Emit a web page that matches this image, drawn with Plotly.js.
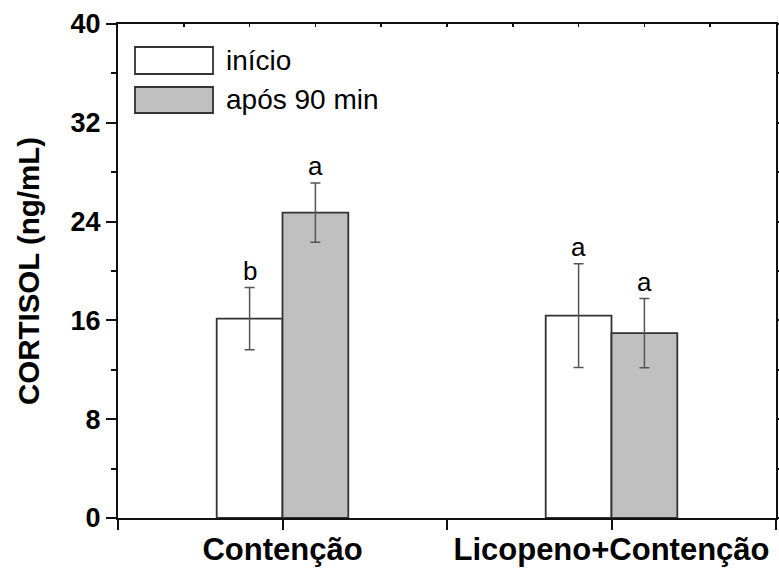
<!DOCTYPE html>
<html>
<head>
<meta charset="utf-8">
<script src="https://cdn.plot.ly/plotly-3.0.1.min.js"></script>
<style>html,body{margin:0;padding:0;background:#fff}#chart{width:779px;height:568px}</style>
</head>
<body>
<div id="chart"></div>
<script>
// ---- data ----
const categories = ['Contenção', 'Licopeno+Contenção'];
const seriesNames = ['início', 'após 90 min'];
const inicioValues = [16.14, 16.38];
const inicioErrors = [2.52, 4.2];
const inicioLetters = ['b', 'a'];
const aposValues = [24.72, 14.97];
const aposErrors = [2.40, 2.8];
const aposLetters = ['a', 'a'];
const yTickVals = [0, 8, 16, 24, 32, 40];

const xPos = categories.map((c, i) => i);
const FONT = '"Liberation Sans", Arial, sans-serif';
const outline = {color: '#333', width: 1.8};
const errStyle = {type: 'data', visible: true, color: '#555', thickness: 1.5, width: 5};

const traces = [
  {type: 'bar', name: seriesNames[0], x: xPos, y: inicioValues,
   marker: {color: '#ffffff', line: outline},
   error_y: Object.assign({array: inicioErrors}, errStyle), showlegend: false, hoverinfo: 'y'},
  {type: 'bar', name: seriesNames[1], x: xPos, y: aposValues,
   marker: {color: '#c0c0c0', line: outline},
   error_y: Object.assign({array: aposErrors}, errStyle), showlegend: false, hoverinfo: 'y'}
];

const annotations = [];
const addLetters = (vals, errs, letters, off) => {
  vals.forEach((v, i) => annotations.push({
    x: i + off, y: v + errs[i], xref: 'x', yref: 'y', text: letters[i], showarrow: false,
    yanchor: 'bottom', yshift: 0, font: {family: FONT, size: 26, color: '#000'}
  }));
};
addLetters(inicioValues, inicioErrors, inicioLetters, -0.1);
addLetters(aposValues, aposErrors, aposLetters, 0.1);

// custom legend (large swatches like the original)
const shapes = [
  {type: 'rect', xref: 'paper', yref: 'paper', x0: 0.0258, x1: 0.1444, y0: 0.8988, y1: 0.9534,
   fillcolor: '#ffffff', line: outline},
  {type: 'rect', xref: 'paper', yref: 'paper', x0: 0.0258, x1: 0.1444, y0: 0.8198, y1: 0.8725,
   fillcolor: '#c0c0c0', line: outline}
];
annotations.push({xref: 'paper', yref: 'paper', x: 0.161, y: 0.9265, xanchor: 'left', yanchor: 'middle',
  text: seriesNames[0], showarrow: false, font: {family: FONT, size: 28, color: '#000'}});
annotations.push({xref: 'paper', yref: 'paper', x: 0.161, y: 0.8462, xanchor: 'left', yanchor: 'middle',
  text: seriesNames[1], showarrow: false, font: {family: FONT, size: 28, color: '#000'}});

const axLine = {showline: true, linecolor: '#111', linewidth: 2, zeroline: false, showgrid: false};

const layout = {
  width: 779, height: 568,
  margin: {l: 118, r: 3, t: 24, b: 50, pad: 0},
  paper_bgcolor: '#fff', plot_bgcolor: '#fff',
  barmode: 'group', bargap: 0.6, bargroupgap: 0,
  font: {family: FONT, color: '#000'},
  xaxis: Object.assign({}, axLine, {
    range: [-0.5, 1.5], tickvals: xPos, ticktext: categories,
    ticks: 'outside', ticklen: 10, tickwidth: 2, tickcolor: '#111', ticklabelstandoff: -7,
    tickfont: {family: FONT, size: 31, color: '#000', weight: 'bold'}
  }),
  xaxis2: Object.assign({}, axLine, {
    overlaying: 'x', side: 'bottom', range: [-0.5, 1.5], dtick: 0.5, tick0: -0.5,
    ticks: 'outside', ticklen: 10, tickwidth: 2, tickcolor: '#111', showticklabels: false
  }),
  xaxis3: Object.assign({}, axLine, {
    overlaying: 'x', side: 'top', range: [-0.5, 1.5], dtick: 0.2, tick0: -0.5,
    ticks: 'inside', ticklen: 3, tickwidth: 1.5, tickcolor: '#111', showticklabels: false
  }),
  yaxis: Object.assign({}, axLine, {
    range: [0, 40], tickvals: yTickVals,
    ticks: 'outside', ticklen: 10, tickwidth: 2, tickcolor: '#111',
    minor: {dtick: 4, ticks: 'outside', ticklen: 5, tickwidth: 2, tickcolor: '#111'},
    tickfont: {family: FONT, size: 27, color: '#000', weight: 'bold'},
    title: {text: 'CORTISOL (ng/mL)', standoff: 22,
      font: {family: FONT, size: 29.5, color: '#000', weight: 'bold'}}
  }),
  yaxis2: Object.assign({}, axLine, {
    overlaying: 'y', side: 'right', range: [0, 40], dtick: 4,
    ticks: 'outside', ticklen: 4, tickwidth: 2, tickcolor: '#111', showticklabels: false
  }),
  shapes: shapes,
  annotations: annotations
};

// invisible helper traces to activate the frame/tick axes
traces.push({type: 'scatter', x: [-0.5], y: [0], xaxis: 'x2', yaxis: 'y', mode: 'markers',
  marker: {opacity: 0}, showlegend: false, hoverinfo: 'skip'});
traces.push({type: 'scatter', x: [-0.5], y: [0], xaxis: 'x3', yaxis: 'y2', mode: 'markers',
  marker: {opacity: 0}, showlegend: false, hoverinfo: 'skip'});

Plotly.newPlot('chart', traces, layout, {displayModeBar: false, staticPlot: true});
</script>
</body>
</html>
